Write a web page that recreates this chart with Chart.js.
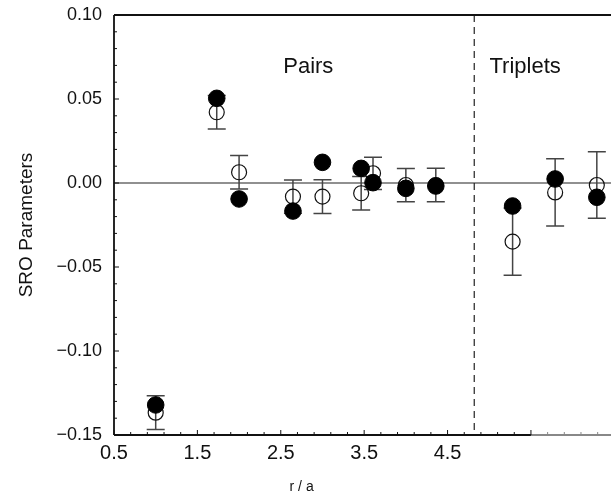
<!DOCTYPE html>
<html>
<head>
<meta charset="utf-8">
<script src="https://cdn.jsdelivr.net/npm/chart.js@4.4.1/dist/chart.umd.min.js"></script>
<style>
  html, body { margin: 0; padding: 0; background: #fff; }
  #wrap { width: 611px; height: 497px; }
</style>
</head>
<body>
<div id="wrap"><canvas id="chart" width="611" height="497"></canvas></div>
<script>
// r/a positions: pair shells, then the three triplet columns
const rValues = [1.0, 1.732, 2.0, 2.646, 3.0, 3.464, 3.606, 4.0, 4.359, 5.28, 5.79, 6.29];
// open circles (with error bars)
const openValues = [-0.1367, 0.0421, 0.0064, -0.0081, -0.0081, -0.0061, 0.0058, -0.0012, -0.0012, -0.0349, -0.0056, -0.0012];
const openErrors = [0.0100, 0.0100, 0.0099, 0.0099, 0.0100, 0.0099, 0.0096, 0.0099, 0.0100, 0.0200, 0.0200, 0.0198];
// filled circles
const filledValues = [-0.1321, 0.0504, -0.0095, -0.0167, 0.0123, 0.0087, 0.0002, -0.0032, -0.0018, -0.0137, 0.0024, -0.0085];

const xTickLabels = [0.5, 1.5, 2.5, 3.5, 4.5];
const yTickLabels = [0.10, 0.05, 0.00, -0.05, -0.10, -0.15];
const pairsEnd = 4.82;      // dashed separator
const pairsAxisEnd = 5.5;   // black axis stops here

const FONT = '"Liberation Sans", Arial, Helvetica, sans-serif';
const near = (v, list) => list.some(t => Math.abs(t - v) < 1e-6);

const toPoints = vals => vals.map((v, i) => ({ x: rValues[i], y: v }));

// minor ticks every 0.2 starting at 0.5
const xTickValues = [];
for (let v = 0.5; v < 6.4; v += 0.2) xTickValues.push(Math.round(v * 10) / 10);

const decor = {
  id: 'decor',
  beforeDatasetsDraw(chart) {
    const { ctx, chartArea: a, scales: { x, y } } = chart;
    ctx.save();
    // zero line
    ctx.strokeStyle = '#222';
    ctx.lineWidth = 1.2;
    ctx.beginPath();
    ctx.moveTo(a.left, y.getPixelForValue(0));
    ctx.lineTo(a.right, y.getPixelForValue(0));
    ctx.stroke();
    // dashed separator
    ctx.setLineDash([7, 5]);
    ctx.lineWidth = 1.2;
    ctx.beginPath();
    ctx.moveTo(x.getPixelForValue(pairsEnd), a.top);
    ctx.lineTo(x.getPixelForValue(pairsEnd), a.bottom);
    ctx.stroke();
    ctx.setLineDash([]);
    // error bars for the open circles
    ctx.strokeStyle = '#444';
    ctx.lineWidth = 1.5;
    openValues.forEach((v, i) => {
      const px = x.getPixelForValue(rValues[i]);
      const top = y.getPixelForValue(v + openErrors[i]);
      const bot = y.getPixelForValue(v - openErrors[i]);
      ctx.beginPath();
      ctx.moveTo(px, top); ctx.lineTo(px, bot);
      ctx.moveTo(px - 9, top); ctx.lineTo(px + 9, top);
      ctx.moveTo(px - 9, bot); ctx.lineTo(px + 9, bot);
      ctx.stroke();
    });
    ctx.restore();
  },
  afterDraw(chart) {
    const { ctx, chartArea: a, scales: { x, y } } = chart;
    ctx.save();
    // frame: top line and the bottom axis
    ctx.strokeStyle = '#111';
    ctx.lineWidth = 1.8;
    ctx.beginPath();
    ctx.moveTo(a.left, a.top); ctx.lineTo(a.right, a.top);
    ctx.moveTo(a.left, a.top); ctx.lineTo(a.left, a.bottom);
    ctx.moveTo(a.left, a.bottom); ctx.lineTo(x.getPixelForValue(pairsAxisEnd), a.bottom);
    ctx.stroke();
    ctx.strokeStyle = '#888';
    ctx.beginPath();
    ctx.moveTo(x.getPixelForValue(pairsAxisEnd), a.bottom); ctx.lineTo(a.right, a.bottom);
    ctx.stroke();
    // inward tick marks
    ctx.lineWidth = 1;
    x.ticks.forEach(t => {
      const px = x.getPixelForValue(t.value);
      const len = near(t.value, xTickLabels) || near(t.value, [pairsAxisEnd]) ? 5 : 3;
      ctx.strokeStyle = t.value > pairsAxisEnd + 1e-6 ? '#888' : '#111';
      ctx.beginPath();
      ctx.moveTo(px, a.bottom); ctx.lineTo(px, a.bottom - len);
      ctx.stroke();
    });
    ctx.strokeStyle = '#111';
    y.ticks.forEach(t => {
      const py = y.getPixelForValue(t.value);
      const len = near(t.value, yTickLabels) ? 5 : 3;
      ctx.beginPath();
      ctx.moveTo(a.left, py); ctx.lineTo(a.left + len, py);
      ctx.stroke();
    });
    // region labels
    ctx.fillStyle = '#111';
    ctx.font = '22px ' + FONT;
    ctx.textAlign = 'center';
    ctx.textBaseline = 'alphabetic';
    ctx.fillText('Pairs', x.getPixelForValue(2.83), y.getPixelForValue(0.0655));
    ctx.fillText('Triplets', x.getPixelForValue(5.43), y.getPixelForValue(0.0655));
    // axis titles
    ctx.textBaseline = 'middle';
    ctx.font = '14px ' + FONT;
    ctx.fillText('r / a', x.getPixelForValue((0.5 + 5.0) / 2), 487);
    ctx.font = '19px ' + FONT;
    ctx.translate(27, (a.top + a.bottom) / 2);
    ctx.rotate(-Math.PI / 2);
    ctx.fillText('SRO Parameters', 0, 0);
    ctx.restore();
  }
};

new Chart(document.getElementById('chart'), {
  type: 'scatter',
  data: {
    datasets: [
      {
        label: 'filled',
        data: toPoints(filledValues),
        pointRadius: 8.3,
        pointBackgroundColor: '#000',
        pointBorderColor: '#000',
        pointBorderWidth: 1,
        pointHoverRadius: 8.3,
      },
      {
        label: 'open',
        data: toPoints(openValues),
        pointRadius: 7.5,
        pointBackgroundColor: 'rgba(0,0,0,0)',
        pointBorderColor: '#111',
        pointBorderWidth: 1.2,
        pointHoverRadius: 7.5,
      },
    ],
  },
  options: {
    responsive: false,
    animation: false,
    layout: { autoPadding: false, padding: { top: 15, right: 0, left: 0, bottom: 0 } },
    plugins: {
      legend: { display: false },
      tooltip: { enabled: false },
    },
    scales: {
      x: {
        type: 'linear',
        min: 0.5,
        max: 6.46,
        afterBuildTicks: s => { s.ticks = xTickValues.map(v => ({ value: v })); },
        afterFit: s => { s.height = 62; s.paddingLeft = 0; s.paddingRight = 0; },
        grid: { display: false, drawTicks: false },
        border: { display: false },
        ticks: {
          autoSkip: false,
          maxRotation: 0,
          padding: 6,
          color: '#111',
          font: { family: FONT, size: 20 },
          callback: v => (near(v, xTickLabels) ? v.toFixed(1) : ''),
        },
      },
      y: {
        min: -0.15,
        max: 0.10,
        afterFit: s => { s.width = 114; s.paddingTop = 0; s.paddingBottom = 0; },
        grid: { display: false, drawTicks: false },
        border: { display: false },
        ticks: {
          stepSize: 0.01,
          autoSkip: false,
          padding: 12,
          color: '#111',
          font: { family: FONT, size: 18 },
          callback: v => (near(v, yTickLabels) ? v.toFixed(2).replace('-', '\u2212') : ''),
        },
      },
    },
  },
  plugins: [decor],
});
</script>
</body>
</html>
